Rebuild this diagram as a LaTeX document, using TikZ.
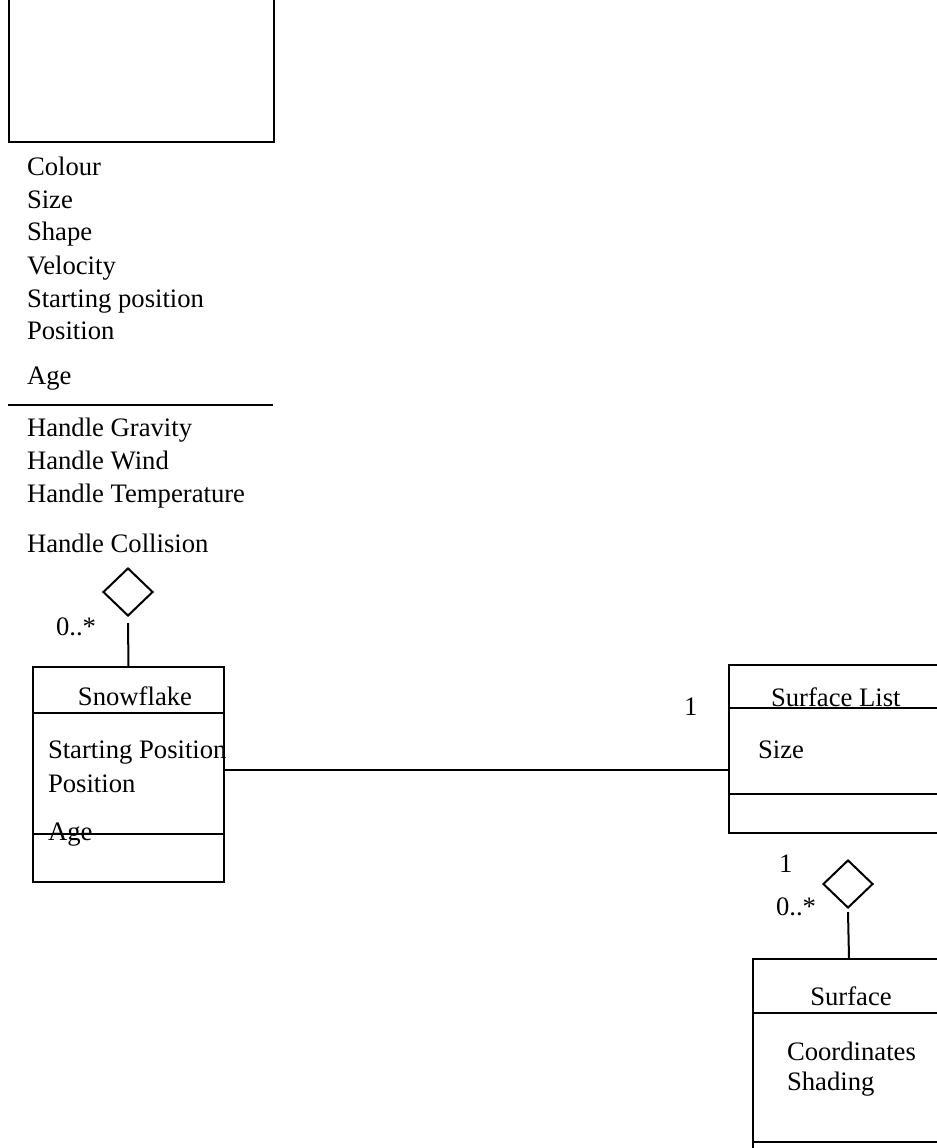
\documentclass[tikz,border=0pt]{standalone}
\usepackage{fontspec}
\setmainfont{Liberation Serif}
\usetikzlibrary{shapes.geometric}
\begin{document}
\begin{tikzpicture}[x=0.75pt,y=-0.75pt,line width=1.5pt,
  box/.style={draw,rectangle,anchor=north west,inner sep=0},
  lbl/.style={anchor=base west,inner sep=0,font=\fontsize{20}{24}\selectfont},
  ctr/.style={anchor=base,inner sep=0,font=\fontsize{20}{24}\selectfont},
  agg/.style={draw,diamond,inner sep=0,minimum width=37.5pt,minimum height=36pt}]
\useasboundingbox (0,0) rectangle (936,1148);
% top class box (cropped)
\node[box,minimum width=198.75pt,minimum height=113.25pt] (top) at (8,-10) {};
\node[lbl] (a1) at (26,176) {Colour};
\node[lbl] (a2) at (26,209) {Size};
\node[lbl] (a3) at (26,241) {Shape};
\node[lbl] (a4) at (26,274) {Velocity};
\node[lbl] (a5) at (26,307) {Starting position};
\node[lbl] (a6) at (26,339) {Position};
\node[lbl] (a7) at (26,384) {Age};
\draw (top.south west) ++(0,262) -- ++(265,0);
\node[lbl] (m1) at (26,436) {Handle Gravity};
\node[lbl] (m2) at (26,469) {Handle Wind};
\node[lbl] (m3) at (26,502) {Handle Temperature};
\node[lbl] (m4) at (26,552) {Handle Collision};
% aggregation to snowflake
\node[agg] (agg1) at (128,592) {};
\node[lbl] (mult1) at (55,635) {0..*};
% snowflake
\node[box,minimum width=143.25pt,minimum height=161.25pt] (snow) at (32,666) {};
\draw (snow.north west) ++(0,47) -- ++(191,0);
\draw (snow.north west) ++(0,168) -- ++(191,0);
\node[ctr] (snowname) at (135,705) {Snowflake};
\node[lbl] (s1) at (47,758) {Starting Position};
\node[lbl] (s2) at (47,792) {Position};
\node[lbl] (s3) at (47,840) {Age};
\draw ([yshift=-4.5pt]agg1.south) -- (snow.north);
% surface list
\node[box,minimum width=162pt,minimum height=126pt] (sl) at (728,664) {};
\draw (sl.north west) ++(0,44) -- ++(216,0);
\draw (sl.north west) ++(0,130) -- ++(216,0);
\node[lbl] (slname) at (770,706) {Surface List};
\node[lbl] (sl1) at (757,758) {Size};
\node[lbl] (mult2) at (683,715) {1};
% association
\coordinate (assoc) at (0,770);
\draw (snow.east |- assoc) -- (sl.west |- assoc);
% aggregation to surface
\node[agg] (agg2) at (848,884) {};
\node[lbl] (mult3) at (778,872) {1};
\node[lbl] (mult4) at (775,915) {0..*};
% surface
\node[box,minimum width=144pt,minimum height=151.5pt] (surf) at (752,958) {};
\draw (surf.north west) ++(0,55) -- ++(192,0);
\draw (surf.north west) ++(0,184) -- ++(192,0);
\node[ctr] (surfname) at (851,1005) {Surface};
\node[lbl] (sf1) at (786,1060) {Coordinates};
\node[lbl] (sf2) at (786,1090) {Shading};
\draw ([yshift=-2.25pt]agg2.south) -- (surf.north);
\end{tikzpicture}
\end{document}
